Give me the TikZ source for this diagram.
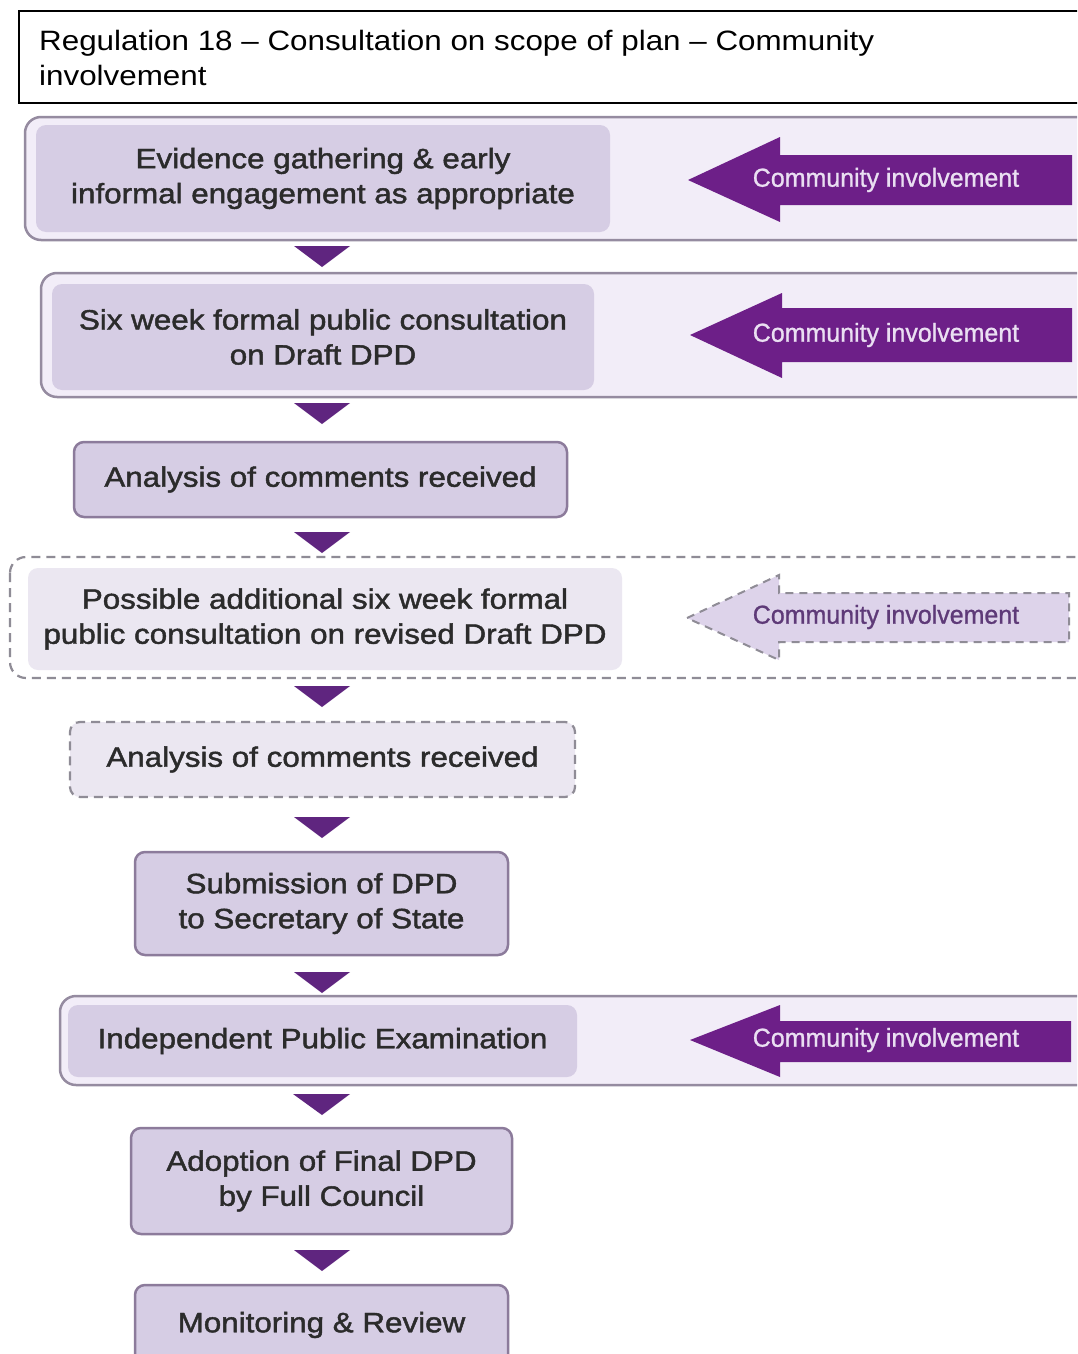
\documentclass[tikz,border=0pt]{standalone}
\usepackage{fontspec}
\setmainfont[Ligatures=TeX]{Liberation Sans}
\newfontfamily\titlefont[FakeStretch=1.12,Ligatures=TeX]{Liberation Sans}
\newfontfamily\boxfont[FakeStretch=1.12,FakeBold=1.6]{Liberation Sans}
\newfontfamily\arrfont[FakeStretch=0.96,FakeBold=1.0]{Liberation Sans}
\definecolor{bandline}{HTML}{958BA0}
\definecolor{bandfill}{HTML}{F2EDF8}
\definecolor{infill}{HTML}{D6CDE4}
\definecolor{boxline}{HTML}{8C7B9B}
\definecolor{tricol}{HTML}{5F257F}
\definecolor{arrcol}{HTML}{6D1F88}
\definecolor{arrtext}{HTML}{EADFF2}
\definecolor{txt}{HTML}{2B2B2B}
\definecolor{dashline}{HTML}{8F8C96}
\definecolor{lightin}{HTML}{EBE7F1}
\definecolor{lightarr}{HTML}{DDD3EA}
\definecolor{lightarrtext}{HTML}{5E3A78}
\begin{document}
\begin{tikzpicture}[x=1pt,y=-1pt,
  band/.style={draw=bandline, line width=2.5pt, fill=bandfill, rounded corners=16pt},
  dband/.style={draw=dashline, line width=2.2pt, dash pattern=on 9pt off 6pt, fill=white, rounded corners=16pt},
  inbox/.style={fill=infill, rounded corners=10pt, inner sep=0pt, align=center, text=txt,
    font=\boxfont\fontsize{28}{35}\selectfont},
  sbox/.style={inbox, draw=boxline, line width=2.5pt},
  lbox/.style={inbox, fill=lightin},
  dbox/.style={inbox, fill=lightin, draw=dashline, line width=2.2pt, dash pattern=on 9pt off 6pt},
  cifill/.style={fill=arrcol},
  cidash/.style={fill=lightarr, draw=dashline, line width=2pt, dash pattern=on 8pt off 6pt},
  citext/.style={text=arrtext, font=\arrfont\fontsize{26}{30}\selectfont, inner sep=0pt},
  citextl/.style={citext, text=lightarrtext},
  tri/.style={fill=tricol}
]
\useasboundingbox (0,0) rectangle (1077,1354);
\clip (0,0) rectangle (1077,1354);
\fill[white] (0,0) rectangle (1077,1354);

% title
\draw[line width=1.6pt, black] (19,11) rectangle (1100,103);
\node[anchor=north west, align=left, inner sep=0pt, font=\titlefont\fontsize{28}{35}\selectfont] (title) at (39,30)
  {Regulation 18 – Consultation on scope of plan – Community\\involvement};

% band 1
\draw[band] (25,117) rectangle (1100,240);
\node[inbox, minimum width=574pt, minimum height=107pt] (n1) at (323,178.5)
  {Evidence gathering \& early\\informal engagement as appropriate};
\path[cifill] (688,180) -- (780,137) -- (780,155) -- (1072,155) -- (1072,205) -- (780,205) -- (780,222) -- cycle;
\node[citext] (c1) at (886,180) {Community involvement};

\fill[tri] (294,246) -- (350,246) -- (322,267) -- cycle;

% band 2
\draw[band] (41,273) rectangle (1100,397);
\node[inbox, minimum width=542pt, minimum height=106pt] (n2) at (323,337)
  {Six week formal public consultation\\on Draft DPD};
\path[cifill] (690,335) -- (782,293) -- (782,308) -- (1072,308) -- (1072,362) -- (782,362) -- (782,378) -- cycle;
\node[citext] (c2) at (886,335) {Community involvement};

\fill[tri] (294,403) -- (350,403) -- (322,424) -- cycle;

% box 3
\node[sbox, minimum width=493pt, minimum height=75pt] (n3) at (320.5,479.5)
  {Analysis of comments received};

\fill[tri] (294,532) -- (350,532) -- (322,553) -- cycle;

% band 4 (dashed)
\draw[dband] (10,557) rectangle (1100,678);
\node[lbox, minimum width=594pt, minimum height=102pt] (n4) at (325,619)
  {Possible additional six week formal\\public consultation on revised Draft DPD};
\path[cidash] (687,618) -- (779,575) -- (779,593) -- (1069,593) -- (1069,642) -- (779,642) -- (779,660) -- cycle;
\node[citextl] (c4) at (886,617) {Community involvement};

\fill[tri] (294,686) -- (350,686) -- (322,707) -- cycle;

% box 5 (dashed)
\node[dbox, minimum width=505pt, minimum height=75pt] (n5) at (322.5,759.5)
  {Analysis of comments received};

\fill[tri] (294,817) -- (350,817) -- (322,838) -- cycle;

% box 6
\node[sbox, minimum width=373pt, minimum height=103pt] (n6) at (321.5,903.5)
  {Submission of DPD\\to Secretary of State};

\fill[tri] (294,972) -- (350,972) -- (322,993) -- cycle;

% band 7
\draw[band] (60,996) rectangle (1100,1085);
\node[inbox, minimum width=509pt, minimum height=72pt] (n7) at (322.5,1041)
  {Independent Public Examination};
\path[cifill] (690,1040) -- (780,1005) -- (780,1021) -- (1071,1021) -- (1071,1062) -- (780,1062) -- (780,1077) -- cycle;
\node[citext] (c7) at (886,1040) {Community involvement};

\fill[tri] (293,1094) -- (350,1094) -- (322,1115) -- cycle;

% box 8
\node[sbox, minimum width=381pt, minimum height=106pt] (n8) at (321.5,1181)
  {Adoption of Final DPD\\by Full Council};

\fill[tri] (294,1250) -- (350,1250) -- (322,1271) -- cycle;

% box 9
\draw[boxline, line width=2.5pt, fill=infill, rounded corners=10pt] (135,1380) -- (135,1285) -- (508,1285) -- (508,1380);
\node[inbox, fill=none] (n9) at (321.5,1325) {Monitoring \& Review};
\end{tikzpicture}
\end{document}
